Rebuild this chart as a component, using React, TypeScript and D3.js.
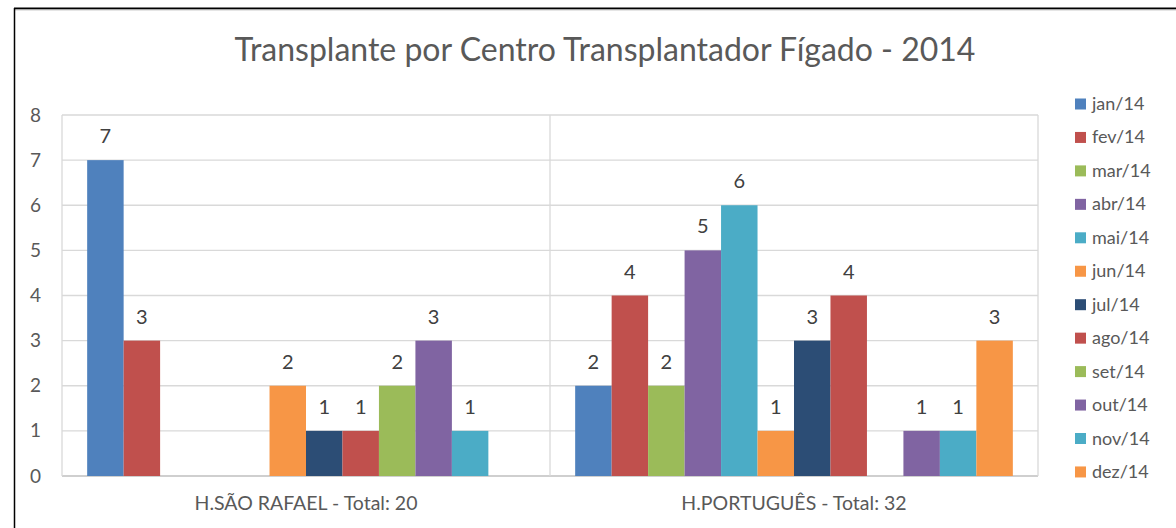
import React, { useEffect } from 'react';
import * as d3 from 'd3';

const title = 'Transplante por Centro Transplantador Fígado - 2014';
const groups = ['H.SÃO RAFAEL - Total: 20', 'H.PORTUGUÊS - Total: 32'];
const months = ['jan/14', 'fev/14', 'mar/14', 'abr/14', 'mai/14', 'jun/14', 'jul/14', 'ago/14', 'set/14', 'out/14', 'nov/14', 'dez/14'];
const colors = ['#4F81BD', '#C0504D', '#9BBB59', '#8064A2', '#4BACC6', '#F79646', '#2C4D75', '#C0504D', '#9BBB59', '#8064A2', '#4BACC6', '#F79646'];
const saoRafael = [7, 3, 0, 0, 0, 2, 1, 1, 2, 3, 1, 0];
const portugues = [2, 4, 2, 5, 6, 1, 3, 4, 0, 1, 1, 3];
const yTicks = [0, 1, 2, 3, 4, 5, 6, 7, 8];

const W = 1176;
const H = 528;
const plot = { left: 62, right: 1038, top: 115, bottom: 476 };
const font = 'Lato, "Open Sans", sans-serif';

export default function App() {
  useEffect(() => {
    document.body.style.margin = '0';
  }, []);

  const values = [saoRafael, portugues];

  const x0 = d3.scaleBand<string>().domain(groups).range([plot.left, plot.right]).padding(0);
  const x1 = d3.scaleBand<string>().domain(months).range([0, x0.bandwidth()]).paddingInner(0).paddingOuter(0.69);
  const y = d3.scaleLinear().domain([0, 8]).range([plot.bottom, plot.top]);

  const vLines = [plot.left, ...groups.map(g => (x0(g) as number) + x0.bandwidth())];

  return (
    <svg width={W} height={H} style={{ display: 'block', background: '#fff' }} fontFamily={font}>
      {/* outer frame */}
      <line x1={14} x2={W} y1={8.5} y2={8.5} stroke="#000" strokeWidth={2} />
      <line x1={14} x2={W} y1={10} y2={10} stroke="#ccc" strokeWidth={1} />
      <line x1={14.5} x2={14.5} y1={8} y2={H} stroke="#000" strokeWidth={1.5} />

      <text x={605} y={61} textAnchor="middle" fontSize={32} fill="#595959">{title}</text>

      {/* grid */}
      {yTicks.map(t => (
        <g key={t}>
          <line x1={plot.left} x2={plot.right} y1={y(t)} y2={y(t)} stroke={t === 0 ? '#BFBFBF' : '#D9D9D9'} strokeWidth={1.3} />
          <text x={41} y={y(t) + 6.5} textAnchor="end" fontSize={19} fill="#595959">{t}</text>
        </g>
      ))}
      {vLines.map((vx, i) => (
        <line key={i} x1={vx} x2={vx} y1={plot.top} y2={plot.bottom} stroke="#D9D9D9" strokeWidth={1.3} />
      ))}

      {/* bars */}
      {groups.map((g, gi) => (
        <g key={g} transform={`translate(${x0(g)},0)`}>
          {months.map((m, mi) => {
            const v = values[gi][mi];
            if (!v) return null;
            const bx = x1(m) as number;
            return (
              <g key={m}>
                <rect x={bx} y={y(v)} width={x1.bandwidth()} height={y(0) - y(v)} fill={colors[mi]} />
                <text x={bx + x1.bandwidth() / 2} y={y(v) - 17} textAnchor="middle" fontSize={20} fill="#404040">{v}</text>
              </g>
            );
          })}
          <text x={x0.bandwidth() / 2} y={510} textAnchor="middle" fontSize={19.5} fill="#595959">{g}</text>
        </g>
      ))}

      {/* legend */}
      {months.map((m, i) => {
        const ly = 104 + i * 33.45;
        return (
          <g key={m}>
            <rect x={1075} y={ly - 5.5} width={11} height={11} fill={colors[i]} />
            <text x={1092} y={ly + 6} fontSize={18} fill="#595959">{m}</text>
          </g>
        );
      })}
    </svg>
  );
}
